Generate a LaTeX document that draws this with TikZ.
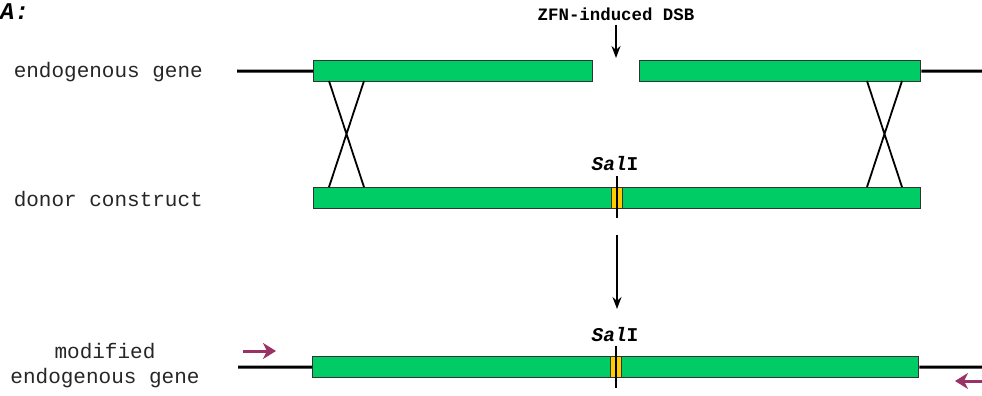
\documentclass[tikz,border=0pt]{standalone}
\usepackage{fontspec}
\setmainfont{Liberation Mono}
\usetikzlibrary{arrows.meta}
\definecolor{gfill}{HTML}{00CC66}
\definecolor{ydna}{HTML}{FFCC00}
\definecolor{primer}{HTML}{993366}
\begin{document}
\begin{tikzpicture}[x=1pt,y=-1pt,
  bar/.style={draw=black!80,fill=gfill,line width=1.3pt},
  ybox/.style={draw=black!80,fill=ydna,line width=1.1pt},
  flank/.style={line width=3pt},
  xline/.style={line width=1.8pt},
  lbl/.style={font=\fontsize{21}{25}\selectfont,inner sep=0pt,text=black!85},
  sal/.style={font=\fontsize{19.5}{22}\selectfont\bfseries,inner sep=0pt},
  darr/.style={line width=1.6pt,-{Stealth[length=12pt,width=9pt]}},
  parr/.style={primer,line width=3pt,-{Stealth[length=13pt,width=16pt,inset=4pt]}}]
\useasboundingbox (0,0) rectangle (982,396);
% title
\node[anchor=west,inner sep=0pt,font=\fontsize{24}{26}\selectfont\bfseries\itshape] (ttl) at (0,12) {A:};
% labels
\node[lbl,anchor=east] (l1) at (203,72) {endogenous gene};
\node[lbl,anchor=east] (l2) at (203,199) {donor construct};
\node[lbl,align=center] (l3) at (105,366) {modified\\endogenous gene};
% row 1
\coordinate (f1a) at (237,71);
\coordinate (f1b) at (982,71);
\node[bar,minimum width=279pt,minimum height=21pt,inner sep=0pt,anchor=north west] (b1l) at (313,60) {};
\node[bar,minimum width=281pt,minimum height=21pt,inner sep=0pt,anchor=north west] (b1r) at (639,60) {};
\draw[flank] (f1a) -- (b1l.west);
\draw[flank] (b1r.east) -- (f1b);
\node[inner sep=0pt,font=\fontsize{17.4}{20}\selectfont\bfseries] (zfn) at (616,14) {ZFN-induced DSB};
\coordinate (dsb) at (616,58);
\draw[darr] (zfn.south) ++(0,4) coordinate (zs) (zs) -- (dsb);
% row 2
\node[bar,minimum width=607pt,minimum height=21pt,inner sep=0pt,anchor=north west] (b2) at (313,187) {};
\node[ybox,minimum width=11pt,minimum height=21pt,inner sep=0pt,anchor=north west] (y2) at (611,187) {};
\coordinate (c2t) at (617,176);
\coordinate (c2b) at (617,218);
\draw[xline] (c2t) -- (c2b);
\node[sal] (s2) at (615,164) {\itshape Sal\upshape I};
% crossovers
\coordinate (xa1) at (329,81); \coordinate (xa2) at (364,81);
\coordinate (xa3) at (329,187); \coordinate (xa4) at (364,187);
\draw[xline] (xa1) -- (xa4) (xa2) -- (xa3);
\coordinate (xb1) at (867,81); \coordinate (xb2) at (902,81);
\coordinate (xb3) at (867,187); \coordinate (xb4) at (902,187);
\draw[xline] (xb1) -- (xb4) (xb2) -- (xb3);
% arrow down
\coordinate (da) at (617,235);
\coordinate (db) at (617,309);
\draw[darr] (da) -- (db);
% row 3
\coordinate (f3a) at (238,367);
\coordinate (f3b) at (982,367);
\node[bar,minimum width=606pt,minimum height=21pt,inner sep=0pt,anchor=north west] (b3) at (312,356) {};
\draw[flank] (f3a) -- (b3.west);
\draw[flank] (b3.east) -- (f3b);
\node[ybox,minimum width=11pt,minimum height=21pt,inner sep=0pt,anchor=north west] (y3) at (610,356) {};
\coordinate (c3t) at (616,346);
\coordinate (c3b) at (616,388);
\draw[xline] (c3t) -- (c3b);
\node[sal] (s3) at (615,335) {\itshape Sal\upshape I};
% primers
\coordinate (p1a) at (243,351); \coordinate (p1b) at (276,351);
\draw[parr] (p1a) -- (p1b);
\coordinate (p2a) at (982,381); \coordinate (p2b) at (955,381);
\draw[parr] (p2a) -- (p2b);
\end{tikzpicture}
\end{document}
